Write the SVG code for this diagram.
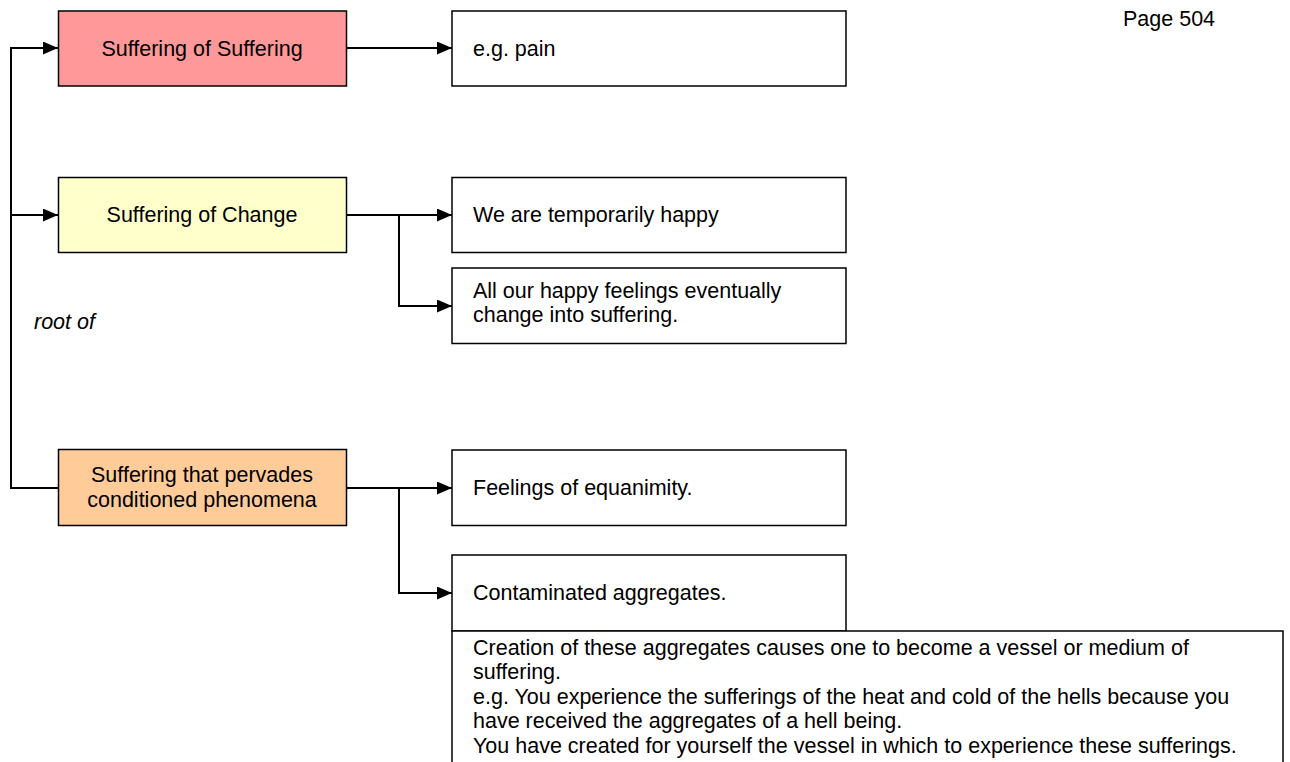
<svg xmlns="http://www.w3.org/2000/svg" width="1290" height="762" viewBox="0 0 1290 762">
<defs>
<marker id="arr" viewBox="0 0 15 13" refX="15" refY="6.5" markerWidth="15" markerHeight="13" markerUnits="userSpaceOnUse" orient="auto">
<path d="M0,0 L15,6.5 L0,13 Z" fill="#000"/>
</marker>
<style>
.box{stroke:#000;stroke-width:1.5}
.t{font-family:"Liberation Sans",Arial,sans-serif;font-size:21.5px;fill:#000}
.c{text-anchor:middle}
.ln{fill:none;stroke:#000;stroke-width:2}
</style>
</defs>
<rect width="1290" height="762" fill="#fff"/>
<text class="t" x="1123" y="26">Page 504</text>
<g id="connectors">
<path class="ln" d="M58,488 H11 V48 H58" marker-end="url(#arr)"/>
<path class="ln" d="M11,215 H58" marker-end="url(#arr)"/>
<path class="ln" d="M346,48 H452" marker-end="url(#arr)"/>
<path class="ln" d="M346,215 H452" marker-end="url(#arr)"/>
<path class="ln" d="M399,215 V306 H452" marker-end="url(#arr)"/>
<path class="ln" d="M346,488 H452" marker-end="url(#arr)"/>
<path class="ln" d="M399,488 V593 H452" marker-end="url(#arr)"/>
</g>
<g id="root-of-label"><text class="t" x="34" y="329" font-style="italic">root of</text></g>
<g id="n1"><rect class="box" x="58.5" y="11" width="288" height="75" fill="#FF9999"/><text class="t c" x="202" y="56">Suffering of Suffering</text></g>
<g id="n2"><rect class="box" x="58.5" y="177.5" width="288" height="75" fill="#FFFFCC"/><text class="t c" x="202" y="222">Suffering of Change</text></g>
<g id="n3"><rect class="box" x="58.5" y="449.5" width="288" height="76" fill="#FFCC99"/><text class="t c" x="202" y="482">Suffering that pervades</text><text class="t c" x="202" y="507">conditioned phenomena</text></g>
<g id="n4"><rect class="box" x="452" y="11" width="394" height="75" fill="#fff"/><text class="t" x="473" y="56">e.g. pain</text></g>
<g id="n5"><rect class="box" x="452" y="177.5" width="394" height="75" fill="#fff"/><text class="t" x="473" y="222">We are temporarily happy</text></g>
<g id="n6"><rect class="box" x="452" y="268" width="394" height="75.5" fill="#fff"/><text class="t" x="473" y="298">All our happy feelings eventually</text><text class="t" x="473" y="322">change into suffering.</text></g>
<g id="n7"><rect class="box" x="452" y="450" width="394" height="75.5" fill="#fff"/><text class="t" x="473" y="495">Feelings of equanimity.</text></g>
<g id="n8"><rect class="box" x="452" y="555" width="394" height="76" fill="#fff"/><text class="t" x="473" y="600">Contaminated aggregates.</text></g>
<g id="n9"><rect class="box" x="452" y="631" width="831" height="140" fill="#fff"/>
<text class="t" x="473" y="655">Creation of these aggregates causes one to become a vessel or medium of</text>
<text class="t" x="473" y="679">suffering.</text>
<text class="t" x="473" y="704">e.g. You experience the sufferings of the heat and cold of the hells because you</text>
<text class="t" x="473" y="728">have received the aggregates of a hell being.</text>
<text class="t" x="473" y="753">You have created for yourself the vessel in which to experience these sufferings.</text>
</g>
</svg>
